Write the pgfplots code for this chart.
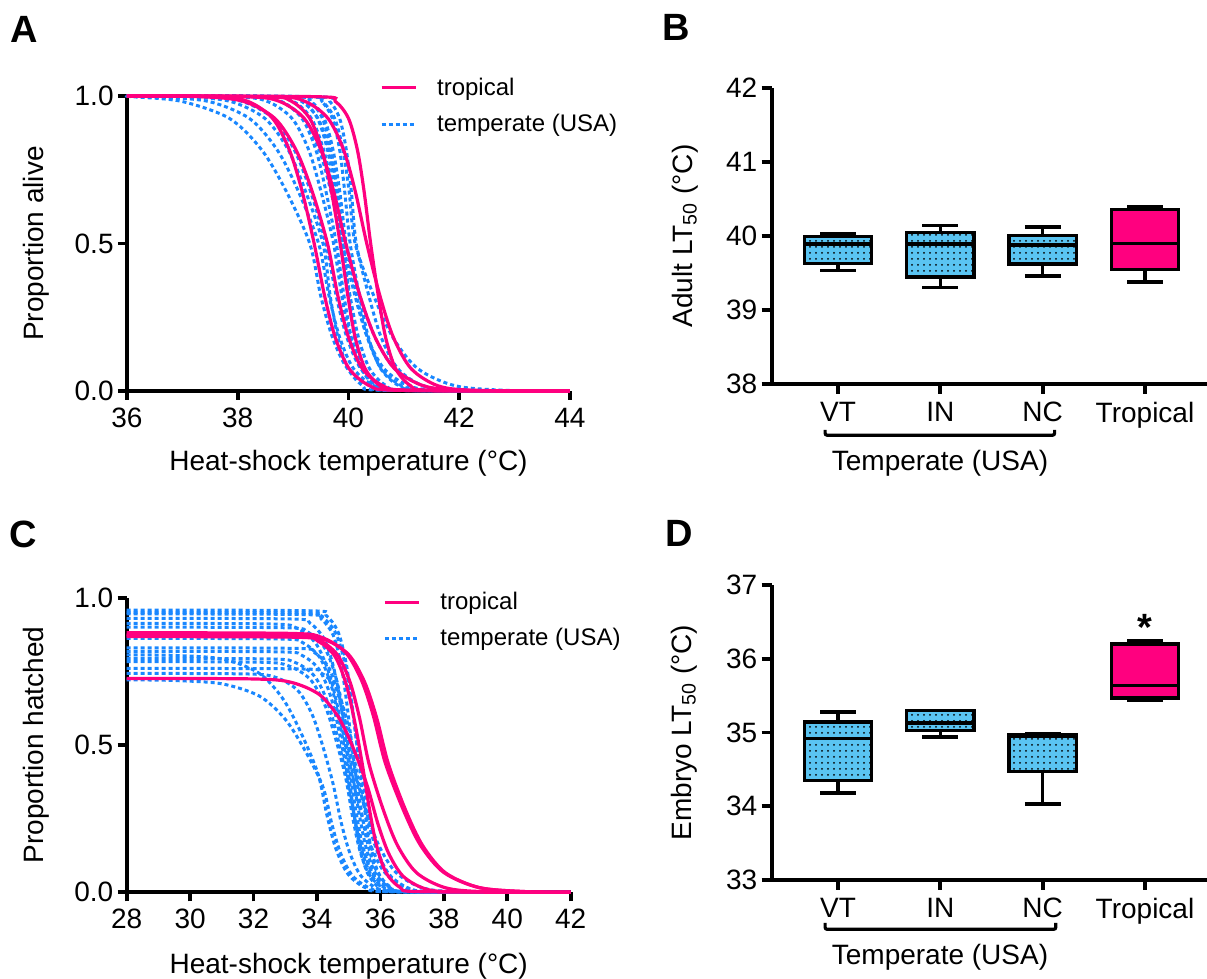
\documentclass[border=0pt]{standalone}
\usepackage{fontspec}
\setmainfont{Liberation Sans}
\usepackage{pgfplots}
\pgfplotsset{compat=1.18}
\usepackage{pgfplotstable}
\usepgfplotslibrary{statistics}
\usetikzlibrary{patterns}
\definecolor{tpink}{RGB}{255,0,127}
\definecolor{tblue}{RGB}{25,135,255}
\definecolor{boxblue}{RGB}{90,196,242}

% Panel A: proportion alive vs heat-shock temperature (x column per curve, shared y)
\pgfplotstableread{
y b1 b2 b3 b4 b5 b6 b7 b8 b9 b10 b11 b12 b13 b14 b15 p1 p2 p3 p4 p5 p6
1 36 36 36 36 36 36 36 36 36 36 36 36 36 36 36 36 36 36 36 36 36
0.9975 36.1 36.46 37.02 37.31 37.93 38.28 38.56 38.81 38.21 39.00 38.75 39.00 39.25 39.22 39.42 37.58 37.34 38.53 38.15 38.65 39.44
0.982 36.98 37.46 37.86 38.07 38.53 38.78 39.00 39.17 38.77 39.30 39.15 39.32 39.51 39.52 39.66 38.18 38.10 38.97 38.75 39.21 39.76
0.924 37.85 38.21 38.49 38.64 38.98 39.16 39.33 39.44 39.19 39.53 39.45 39.56 39.71 39.75 39.84 38.63 38.67 39.30 39.20 39.63 40.00
0.818 38.43 38.71 38.91 39.02 39.28 39.41 39.55 39.62 39.47 39.68 39.65 39.72 39.84 39.90 39.96 38.93 39.05 39.52 39.50 39.91 40.16
0.679 38.87 39.09 39.22 39.31 39.50 39.59 39.72 39.76 39.68 39.79 39.80 39.84 39.93 40.01 40.05 39.16 39.34 39.69 39.73 40.12 40.28
0.5 39.30 39.46 39.54 39.59 39.73 39.78 39.88 39.89 39.89 39.90 39.95 39.96 40.03 40.12 40.14 39.38 39.62 39.85 39.95 40.33 40.40
0.321 39.50 39.65 39.67 39.78 39.88 39.92 40.03 40.00 40.12 40.01 40.21 40.15 40.20 40.46 40.37 39.57 39.81 39.99 40.21 40.57 40.54
0.182 39.71 39.84 39.81 39.97 40.03 40.05 40.18 40.12 40.34 40.11 40.48 40.34 40.36 40.80 40.59 39.76 40.00 40.12 40.48 40.81 40.67
0.076 39.98 40.09 39.99 40.22 40.23 40.23 40.38 40.27 40.64 40.25 40.83 40.59 40.58 41.25 40.89 40.01 40.25 40.30 40.83 41.13 40.85
0.018 40.38 40.46 40.26 40.59 40.53 40.50 40.68 40.49 41.09 40.46 41.35 40.96 40.91 41.92 41.34 40.38 40.62 40.57 41.35 41.61 41.12
0.0025 40.92 40.96 40.62 41.09 40.93 40.86 41.08 40.79 41.69 40.74 42.05 41.46 41.35 42.82 41.94 40.88 41.12 40.93 42.05 42.25 41.48
0 44 44 44 44 44 44 44 44 44 44 44 44 44 44 44 44 44 44 44 44 44
}\dataA

\pgfplotsset{
  panel/.style={
    scale only axis, anchor=south west, clip=false,
    axis lines=left, axis line style={-, line width=1.9pt, black},
    tick align=outside, major tick length=4.5pt,
    tick style={line width=1.9pt, black},
    tick label style={font=\fontsize{14}{16}\selectfont, inner sep=2pt},
    xticklabel style={yshift=-1.8pt},
    label style={font=\fontsize{14}{16}\selectfont},
    /pgf/number format/assume math mode=true,
    legend image code/.code={\draw[##1] (0pt,0pt) -- (17pt,0pt);},
  },
  pinkc/.style={tpink, line width=1.6pt, smooth, solid, mark=none},
  bluec/.style={tblue, line width=1.5pt, smooth, dash pattern=on 2pt off 1.5pt, mark=none},
  bbox/.style={draw=black, line width=1.7pt, fill=boxblue,
    boxplot/every box/.style={postaction={pattern=dots, pattern color=black}}},
  pbox/.style={draw=black, line width=1.7pt, fill=tpink},
}

\begin{document}
\begin{tikzpicture}
\path[use as bounding box] (0pt,0pt) rectangle (603.5pt,489.5pt);

% ---------------- Panel A ----------------
\begin{axis}[panel, at={(63.5pt,294pt)}, width=221.5pt, height=147.5pt,
  xmin=36, xmax=44, ymin=0, ymax=1,
  xtick={36,38,40,42,44}, ytick={0,0.5,1}, yticklabels={0.0,0.5,1.0},
  xlabel={Heat-shock temperature (°C)}, ylabel={Proportion alive},
  xlabel style={at={(axis description cs:0.5,-0.268)}, anchor=base},
  ylabel style={at={(axis description cs:-0.205,0.5)}, anchor=center},
  legend style={draw=none, fill=none, at={(axis description cs:0.570,0.966)}, anchor=west,
    font=\fontsize{12}{14}\selectfont, row sep=4pt, column sep=8pt, inner sep=0pt},
  legend cell align=left]
\addlegendimage{pinkc}\addlegendentry{tropical}
\addlegendimage{bluec}\addlegendentry{temperate (USA)}
\foreach \c in {b1,b2,b3,b4,b5,b6,b7,b8,b9,b10,b11,b12,b13,b14,b15}{
  \addplot[bluec] table[x=\c, y=y] {\dataA};
}
\foreach \c in {p1,p2,p3,p4,p5,p6}{
  \addplot[pinkc] table[x=\c, y=y] {\dataA};
}
\end{axis}

% ---------------- Panel B ----------------
\begin{axis}[panel, at={(385.85pt,297.5pt)}, width=217.65pt, height=148pt,
  xmin=0.352, xmax=4.606, ymin=38, ymax=42, major tick length=5pt,
  xtick={1,2,3,4}, xticklabels={VT,IN,NC,Tropical}, ytick={38,39,40,41,42},
  ylabel={Adult LT\textsubscript{50} (°C)},
  ylabel style={at={(axis description cs:-0.199,0.5)}, anchor=center},
  boxplot/draw direction=y]
\addplot[bbox, boxplot prepared={draw position=1, lower whisker=39.535, lower quartile=39.63, median=39.89, upper quartile=39.995, upper whisker=40.03, box extend=0.66, whisker extend=0.35}] coordinates {};
\addplot[bbox, boxplot prepared={draw position=2, lower whisker=39.30, lower quartile=39.445, median=39.89, upper quartile=40.045, upper whisker=40.14, box extend=0.66, whisker extend=0.35}] coordinates {};
\addplot[bbox, boxplot prepared={draw position=3, lower whisker=39.46, lower quartile=39.62, median=39.88, upper quartile=40.01, upper whisker=40.12, box extend=0.66, whisker extend=0.35}] coordinates {};
\addplot[pbox, boxplot prepared={draw position=4, lower whisker=39.38, lower quartile=39.55, median=39.90, upper quartile=40.36, upper whisker=40.40, box extend=0.66, whisker extend=0.35}] coordinates {};
\end{axis}

% ---------------- Panel C ----------------
\begin{axis}[panel, at={(63.35pt,43.35pt)}, width=222pt, height=147.3pt,
  xmin=28, xmax=42, ymin=0, ymax=1,
  xtick={28,30,...,42}, ytick={0,0.5,1}, yticklabels={0.0,0.5,1.0},
  xlabel={Heat-shock temperature (°C)}, ylabel={Proportion hatched},
  xlabel style={at={(axis description cs:0.5,-0.274)}, anchor=base},
  ylabel style={at={(axis description cs:-0.204,0.5)}, anchor=center},
  legend style={draw=none, fill=none, at={(axis description cs:0.577,0.923)}, anchor=west,
    font=\fontsize{12}{14}\selectfont, row sep=4pt, column sep=8pt, inner sep=0pt},
  legend cell align=left]
\addlegendimage{pinkc}\addlegendentry{tropical}
\addlegendimage{bluec}\addlegendentry{temperate (USA)}
\addplot[bluec] coordinates {(28,.721)(29.38,.7192)(30.98,.7080)(32.18,.6662)(32.98,.5898)(33.58,.4896)(34.18,.3605)(34.47,.2314)(34.75,.1312)(35.13,.0548)(35.70,.0130)(36.46,.0018)(42,0)};
\addplot[bluec] coordinates {(28,.806)(29.53,.8040)(31.03,.7915)(32.16,.7447)(32.91,.6593)(33.47,.5473)(34.03,.4030)(34.32,.2587)(34.60,.1467)(34.98,.0613)(35.55,.0145)(36.31,.0020)(42,0)};
\addplot[bluec] coordinates {(28,.743)(31.80,.7411)(32.70,.7296)(33.38,.6865)(33.83,.6078)(34.16,.5045)(34.50,.3715)(34.76,.2385)(35.03,.1352)(35.38,.0565)(35.90,.0134)(36.60,.0019)(42,0)};
\addplot[bluec] coordinates {(28,.783)(32.20,.7810)(33.10,.7689)(33.78,.7235)(34.23,.6405)(34.56,.5317)(34.90,.3915)(35.13,.2513)(35.35,.1425)(35.65,.0595)(36.10,.0141)(36.70,.0020)(42,0)};
\addplot[bluec] coordinates {(28,.794)(32.52,.7920)(33.32,.7797)(33.92,.7337)(34.32,.6495)(34.62,.5391)(34.92,.3970)(35.18,.2549)(35.45,.1445)(35.80,.0603)(36.32,.0143)(37.02,.0020)(42,0)};
\addplot[bluec] coordinates {(28,.818)(32.84,.8160)(33.54,.8033)(34.07,.7558)(34.42,.6691)(34.68,.5554)(34.94,.4090)(35.17,.2626)(35.39,.1489)(35.69,.0622)(36.14,.0147)(36.74,.0020)(42,0)};
\addplot[bluec] coordinates {(28,.862)(32.86,.8598)(33.56,.8465)(34.09,.7965)(34.44,.7051)(34.70,.5853)(34.96,.4310)(35.15,.2767)(35.34,.1569)(35.59,.0655)(35.96,.0155)(36.46,.0022)(42,0)};
\addplot[bluec] coordinates {(28,.913)(32.57,.9107)(33.37,.8966)(33.97,.8436)(34.37,.7468)(34.67,.6199)(34.97,.4565)(35.20,.2931)(35.42,.1662)(35.72,.0694)(36.17,.0164)(36.77,.0023)(42,0)};
\addplot[bluec] coordinates {(28,.930)(33.18,.9277)(33.78,.9133)(34.23,.8593)(34.53,.7607)(34.76,.6315)(34.98,.4650)(35.32,.2985)(35.66,.1693)(36.11,.0707)(36.78,.0167)(37.68,.0023)(42,0)};
\addplot[bluec] coordinates {(28,.830)(33.30,.8279)(33.90,.8151)(34.35,.7669)(34.65,.6789)(34.88,.5636)(35.10,.4150)(35.33,.2664)(35.55,.1511)(35.85,.0631)(36.30,.0149)(36.90,.0021)(42,0)};
\addplot[bluec] coordinates {(28,.900)(33.00,.8978)(33.70,.8838)(34.23,.8316)(34.58,.7362)(34.84,.6111)(35.10,.4500)(35.51,.2889)(35.93,.1638)(36.48,.0684)(37.30,.0162)(38.40,.0023)(42,0)};
\addplot[bluec] coordinates {(28,.945)(33.63,.9426)(34.13,.9280)(34.51,.8732)(34.76,.7730)(34.94,.6417)(35.13,.4725)(35.36,.3033)(35.58,.1720)(35.88,.0718)(36.33,.0170)(36.93,.0024)(42,0)};
\addplot[bluec] coordinates {(28,.958)(33.78,.9556)(34.28,.9408)(34.66,.8852)(34.91,.7836)(35.09,.6505)(35.28,.4790)(35.47,.3075)(35.66,.1744)(35.91,.0728)(36.28,.0172)(36.78,.0024)(42,0)};
\addplot[bluec] coordinates {(28,.950)(33.62,.9476)(34.18,.9329)(34.60,.8778)(34.88,.7771)(35.09,.6451)(35.30,.4750)(35.56,.3050)(35.83,.1729)(36.18,.0722)(36.70,.0171)(37.40,.0024)(42,0)};
\addplot[bluec] coordinates {(28,.760)(33.50,.7581)(34.10,.7463)(34.55,.7022)(34.85,.6217)(35.08,.5160)(35.30,.3800)(35.60,.2440)(35.90,.1383)(36.30,.0578)(36.90,.0137)(37.70,.0019)(42,0)};
\addplot[pinkc] coordinates {(28,.881)(33.15,.8788)(34.15,.8651)(34.90,.8140)(35.40,.7207)(35.78,.5982)(36.15,.4405)(36.71,.2828)(37.26,.1603)(38.00,.0670)(39.11,.0159)(40.59,.0022)(42,0)};
\addplot[pinkc] coordinates {(28,.873)(33.25,.8708)(34.25,.8573)(35.00,.8067)(35.50,.7141)(35.88,.5928)(36.25,.4365)(36.79,.2802)(37.33,.1589)(38.05,.0663)(39.13,.0157)(40.57,.0022)(42,0)};
\addplot[pinkc] coordinates {(28,.868)(33.33,.8658)(34.03,.8524)(34.56,.8020)(34.91,.7100)(35.17,.5894)(35.43,.4340)(35.66,.2786)(35.88,.1580)(36.18,.0660)(36.63,.0156)(37.23,.0022)(42,0)};
\addplot[pinkc] coordinates {(28,.873)(33.24,.8708)(34.04,.8573)(34.64,.8067)(35.04,.7141)(35.34,.5928)(35.64,.4365)(36.09,.2802)(36.54,.1589)(37.14,.0663)(38.04,.0157)(39.24,.0022)(42,0)};
\addplot[pinkc] coordinates {(28,.726)(31.98,.7242)(33.18,.7129)(34.08,.6708)(34.68,.5939)(35.13,.4930)(35.58,.3630)(35.92,.2330)(36.26,.1321)(36.71,.0552)(37.38,.0131)(38.28,.0018)(42,0)};
\end{axis}

% ---------------- Panel D ----------------
\begin{axis}[panel, at={(385.85pt,49.5pt)}, width=217.65pt, height=147.5pt,
  xmin=0.352, xmax=4.606, ymin=33, ymax=37, major tick length=5pt,
  xtick={1,2,3,4}, xticklabels={VT,IN,NC,Tropical}, ytick={33,34,35,36,37},
  ylabel={Embryo LT\textsubscript{50} (°C)},
  ylabel style={at={(axis description cs:-0.2015,0.5)}, anchor=center},
  boxplot/draw direction=y]
\addplot[bbox, boxplot prepared={draw position=1, lower whisker=34.18, lower quartile=34.35, median=34.92, upper quartile=35.14, upper whisker=35.28, box extend=0.66, whisker extend=0.35}] coordinates {};
\addplot[bbox, boxplot prepared={draw position=2, lower whisker=34.94, lower quartile=35.03, median=35.13, upper quartile=35.30, upper whisker=35.30, box extend=0.66, whisker extend=0.35}] coordinates {};
\addplot[bbox, boxplot prepared={draw position=3, lower whisker=34.03, lower quartile=34.47, median=34.955, upper quartile=34.965, upper whisker=34.985, box extend=0.66, whisker extend=0.35}] coordinates {};
\addplot[pbox, boxplot prepared={draw position=4, lower whisker=35.43, lower quartile=35.47, median=35.64, upper quartile=36.20, upper whisker=36.25, box extend=0.66, whisker extend=0.35}] coordinates {};
\node[font=\fontsize{19}{21}\selectfont\bfseries, inner sep=0pt] at (axis cs:4,36.43) {*};
\end{axis}

% brackets and group labels
\draw[line width=1.6pt, rounded corners=1pt] (412.55pt,274.5pt) -- (412.55pt,271.9pt) -- (527.3pt,271.9pt) -- (527.3pt,274.5pt);
\node[anchor=base, font=\fontsize{14}{16}\selectfont] at (470pt,254pt) {Temperate (USA)};
\draw[line width=1.6pt, rounded corners=1pt] (412.55pt,28pt) -- (412.55pt,24.85pt) -- (527.9pt,24.85pt) -- (527.9pt,28pt);
\node[anchor=base, font=\fontsize{14}{16}\selectfont] at (470pt,7.15pt) {Temperate (USA)};

% panel letters
\node[font=\fontsize{19}{21}\selectfont\bfseries, inner sep=0pt] at (12pt,475pt) {A};
\node[font=\fontsize{19}{21}\selectfont\bfseries, inner sep=0pt] at (338.25pt,475.6pt) {B};
\node[font=\fontsize{19}{21}\selectfont\bfseries, inner sep=0pt] at (11.75pt,222.5pt) {C};
\node[font=\fontsize{19}{21}\selectfont\bfseries, inner sep=0pt] at (339.75pt,222.85pt) {D};
\end{tikzpicture}
\end{document}
